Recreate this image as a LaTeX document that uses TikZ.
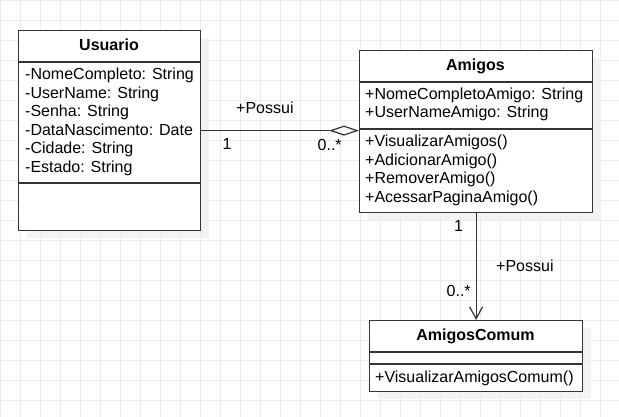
\documentclass[tikz,border=0pt]{standalone}
\usepackage{fontspec}
\setmainfont{Liberation Sans}
\usepackage{xcolor}
\usetikzlibrary{arrows.meta}

\definecolor{gridgray}{HTML}{EBEBEB}
\definecolor{shadowgray}{HTML}{F0F0F0}
\definecolor{linegray}{HTML}{333333}

\begin{document}
\begin{tikzpicture}[x=1pt,y=-1pt,
  font=\fontsize{16}{18.5}\selectfont,
  classbox/.style={draw=linegray, line width=1.2pt, fill=white, anchor=north west, inner sep=0pt},
  member/.style={anchor=base west, inner sep=0pt},
  classname/.style={anchor=base, inner sep=0pt, font=\fontsize{16}{18.5}\selectfont\bfseries},
  lbl/.style={anchor=base west, inner sep=0pt},
  assoc/.style={draw=linegray, line width=1.2pt}]

\useasboundingbox (0,0) rectangle (619,417);

% Draw grid
\foreach \gx in {0,20,...,600} \draw[gridgray, line width=0.8pt] (\gx,0) -- (\gx,417);
\foreach \gy in {0,20,...,400} \draw[gridgray, line width=0.8pt] (0,\gy) -- (619,\gy);

% Draw shadows
\fill[shadowgray, opacity=0.8] (27,38) rectangle (209,238);
\fill[shadowgray, opacity=0.8] (368,58) rectangle (601,220);
\fill[shadowgray, opacity=0.8] (378,328) rectangle (591,399);

% Draw classes
\node[classbox, minimum width=182pt, minimum height=200pt] (usuario) at (18,30) {};
\node[classbox, minimum width=233pt, minimum height=162pt] (amigos) at (359,50) {};
\node[classbox, minimum width=213pt, minimum height=71pt] (amigoscomum) at (369,320) {};

% Compartments
\draw[linegray, line width=1.2pt] (18,62) -- (200,62) (18,183) -- (200,183);
\draw[linegray, line width=1.2pt] (359,82) -- (592,82) (359,129) -- (592,129);
\draw[linegray, line width=1.2pt] (369,352) -- (582,352) (369,364) -- (582,364);

% Class names
\node[classname] (usuarioname) at (109,50.7) {Usuario};
\node[classname] (amigosname) at (475.5,70.7) {Amigos};
\node[classname] (amigoscomumname) at (475.5,340.7) {AmigosComum};

% Members of Usuario
\node[member] (u1) at (25,80) {-NomeCompleto: String};
\node[member] (u2) at (25,98.5) {-UserName: String};
\node[member] (u3) at (25,117) {-Senha: String};
\node[member] (u4) at (25,135.5) {-DataNascimento: Date};
\node[member] (u5) at (25,154) {-Cidade: String};
\node[member] (u6) at (25,172.5) {-Estado: String};

% Members of Amigos
\node[member] (a1) at (365,99.3) {+NomeCompletoAmigo: String};
\node[member] (a2) at (365,117.5) {+UserNameAmigo: String};
\node[member] (a3) at (365,147) {+VisualizarAmigos()};
\node[member] (a4) at (365,165.5) {+AdicionarAmigo()};
\node[member] (a5) at (365,184) {+RemoverAmigo()};
\node[member] (a6) at (365,202.5) {+AcessarPaginaAmigo()};

% Members of AmigosComum
\node[member] (c1) at (375,382.5) {+VisualizarAmigosComum()};

% Draw associations
\draw[assoc, {Diamond[open, length=30pt, width=10pt, line join=miter]}-] (amigos.west |- usuario.east) -- (usuario.east);
\draw[assoc, -{Straight Barb[length=12pt, width=13pt, line join=miter]}] (amigos.south) -- (amigoscomum.north);

% Association labels
\node[lbl] (possui1) at (236,114) {+Possui};
\node[lbl] (mult1) at (222.5,149.5) {1};
\node[lbl] (mult2) at (317.5,150.5) {0..*};
\node[lbl] (possui2) at (496,271.7) {+Possui};
\node[lbl] (mult3) at (454,231.7) {1};
\node[lbl] (mult4) at (446.5,296) {0..*};

\end{tikzpicture}
\end{document}
